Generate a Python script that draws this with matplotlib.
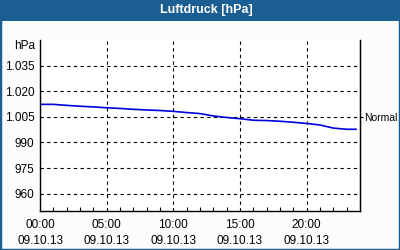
import matplotlib
matplotlib.use("Agg")
import matplotlib.pyplot as plt
from matplotlib.patches import Rectangle

plt.rcParams["font.family"] = ["Liberation Sans", "DejaVu Sans"]

hours = [0, 1, 2, 3, 4, 5, 6, 7, 8, 9, 10, 11, 12, 13, 14, 15, 16, 17, 18, 19, 20, 21, 22, 23, 23.7]
pressure = [1012.3, 1012.3, 1011.7, 1011.2, 1010.8, 1010.3, 1009.9, 1009.4, 1009.0, 1008.7,
            1008.2, 1007.5, 1006.9, 1005.5, 1004.6, 1003.9, 1003.0, 1002.8, 1002.4, 1001.8,
            1001.1, 1000.2, 998.4, 997.7, 997.7]
ytick_vals = [960, 975, 990, 1005, 1020, 1035]
ytick_labels = ["960", "975", "990", "1.005", "1.020", "1.035"]
xtick_vals = [0, 5, 10, 15, 20]
xtick_labels = ["00:00\n09.10.13", "05:00\n09.10.13", "10:00\n09.10.13", "15:00\n09.10.13", "20:00\n09.10.13"]
title = "Luftdruck [hPa]"
normal_val = 1005

blue = "#1B5E94"
bg = "#FBFDFB"
fs = 8.5

fig = plt.figure(figsize=(4, 2.5), dpi=100)
fig.patch.set_facecolor(bg)
fig.patches.append(Rectangle((0, 0), 1, 1, transform=fig.transFigure, fill=False,
                             edgecolor=blue, linewidth=2.5, zorder=0))
fig.patches.append(Rectangle((0, 1 - 21 / 250), 1, 21 / 250, transform=fig.transFigure,
                             facecolor=blue, edgecolor="none", zorder=0))
fig.text(206 / 400, 1 - 10.5 / 250, title, color="white", fontsize=9, fontweight="bold",
         ha="center", va="center")

ax = fig.add_axes([40 / 400, (250 - 210.7) / 250, 320 / 400, 170.7 / 250])
ax.set_facecolor("white")
ax.plot(hours, pressure, color="#0000E0", linewidth=1.2)
ax.set_xlim(0, 24)
ax.set_ylim(950, 1050)
ax.set_yticks(ytick_vals)
ax.set_yticklabels(ytick_labels, fontsize=fs)
ax.set_xticks(xtick_vals)
ax.set_xticklabels(xtick_labels, fontsize=fs, linespacing=1.45)
ax.set_xticks(range(0, 24), minor=True)
ax.grid(True, which="major", color="black", linestyle=(0, (3, 3)), linewidth=0.8)
ax.tick_params(axis="y", which="both", length=0, pad=4)
ax.tick_params(axis="x", which="major", length=0, pad=6)
ax.tick_params(axis="x", which="minor", direction="in", length=3, width=0.8)
ax.spines["top"].set_visible(False)
for s in ["left", "right", "bottom"]:
    ax.spines[s].set_linewidth(1)

ax2 = ax.twinx()
ax2.set_ylim(950, 1050)
ax2.set_yticks([normal_val])
ax2.set_yticklabels(["Normal"], fontsize=7.5)
ax2.tick_params(axis="y", length=2, pad=1)
for s in ["top", "left", "bottom"]:
    ax2.spines[s].set_visible(False)

ax.text(-0.015, 0.965, "hPa", transform=ax.transAxes, fontsize=fs, ha="right", va="center")

fig.savefig("out.png", dpi=100, facecolor=fig.get_facecolor())
